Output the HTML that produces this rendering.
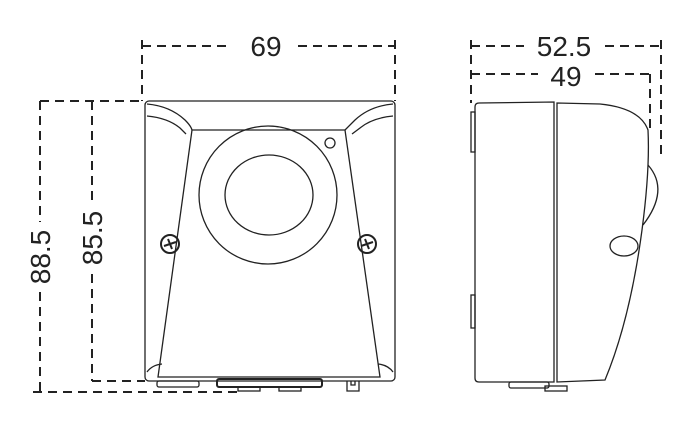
<!DOCTYPE html>
<html><head><style>body{margin:0;background:#fff}svg{display:block}</style></head><body>
<svg width="700" height="421" viewBox="0 0 700 421" xmlns="http://www.w3.org/2000/svg" fill="none" stroke="#222" stroke-width="1.3">
<g stroke-dasharray="9,6" stroke-width="2">
<line x1="142" y1="40" x2="142" y2="101"/>
<line x1="142" y1="46" x2="232" y2="46"/><line x1="298" y1="46" x2="395" y2="46"/>
<line x1="395" y1="40" x2="395" y2="101"/>
<line x1="40" y1="101" x2="145" y2="101"/>
<line x1="40" y1="101" x2="40" y2="222"/><line x1="40" y1="292" x2="40" y2="392"/>
<line x1="92" y1="101" x2="92" y2="202"/><line x1="92" y1="274" x2="92" y2="381"/>
<line x1="92" y1="381" x2="145" y2="381"/>
<line x1="33" y1="392" x2="240" y2="392"/>
<line x1="471" y1="40" x2="471" y2="103"/>
<line x1="471" y1="46" x2="524" y2="46"/><line x1="605" y1="46" x2="661" y2="46"/>
<line x1="661" y1="40" x2="661" y2="160"/>
<line x1="471" y1="74" x2="538" y2="74"/><line x1="595" y1="74" x2="650" y2="74"/>
<line x1="650" y1="74" x2="650" y2="128"/>
</g>
<g font-family="Liberation Sans, sans-serif" font-size="28" fill="#222" stroke="none" text-anchor="middle">
<text x="266" y="56">69</text>
<text x="564" y="56">52.5</text>
<text x="566" y="86">49</text>
<text transform="translate(50,257) rotate(-90)">88.5</text>
<text transform="translate(102,238) rotate(-90)">85.5</text>
</g>
<!-- front -->
<rect x="145" y="101" width="250" height="280" rx="4"/>
<path d="M192 130 L345 130 L380 377 L158 377 Z"/>
<path d="M147 104 Q170 106 185 120 Q191 126 192 130"/>
<path d="M147 116 Q168 118 180 128 L186 134"/>
<path d="M393 104 Q370 106 355 120 Q349 126 345 130"/>
<path d="M393 116 Q372 118 360 128 L352 134"/>
<path d="M147 372 Q152 365 162 364"/><path d="M393 372 Q388 365 378 364"/>
<circle cx="268" cy="195" r="69"/>
<ellipse cx="269" cy="195" rx="44" ry="40"/>
<circle cx="330" cy="143" r="5"/>
<circle cx="170" cy="244" r="9" stroke-width="2"/><circle cx="367" cy="244" r="9" stroke-width="2"/>
<path d="M164 246 L176 242 M168 239 L172 249" stroke-width="2"/>
<path d="M361 246 L373 242 M365 239 L369 249" stroke-width="2"/>
<rect x="157" y="381" width="42" height="6" rx="2"/>
<rect x="217" y="379" width="105" height="8" rx="2" stroke-width="2"/>
<rect x="238" y="387" width="22" height="4"/><rect x="279" y="387" width="22" height="4"/>
<path d="M347 381 v10 h12 v-10 M351 381 v4 h4 v-4"/>
<!-- side -->
<path d="M479 103 L554 102 L554 382 L479 382 Q475 382 475 378 L475 107 Q475 103 479 103 Z"/>
<rect x="471" y="112" width="4" height="40"/><rect x="471" y="295" width="4" height="33"/>
<path d="M557 103 L600 104 Q640 108 648 130 Q650 170 642 230 Q630 320 605 380 L557 382 Z"/>
<path d="M648 165 Q670 190 643 225"/>
<ellipse cx="624" cy="246" rx="14" ry="10"/>
<rect x="509" y="382" width="40" height="6" rx="2"/>
<rect x="545" y="386" width="22" height="5"/>
</svg>
</body></html>
